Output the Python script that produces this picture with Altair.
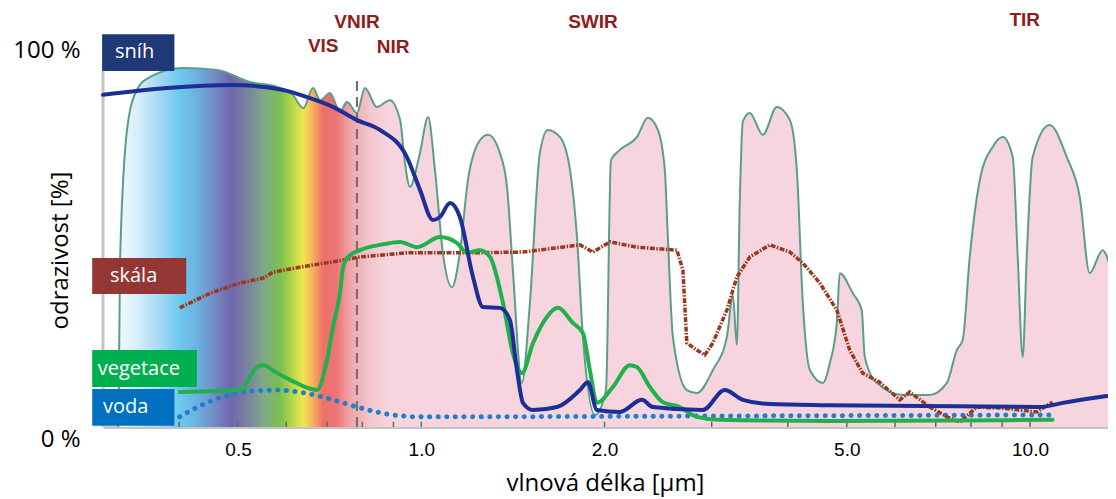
import altair as alt
import pandas as pd

# ---------------- data (wavelength in µm, reflectance / transmission in %) -------------
atm_lam = [0.318, 0.320, 0.329, 0.341, 0.358, 0.406, 0.462, 0.523, 0.580, 0.615,
           0.640, 0.664, 0.682, 0.708, 0.735, 0.755, 0.784, 0.808, 0.845, 0.888,
           0.923, 0.940, 0.958, 0.995, 1.026, 1.053, 1.085, 1.123, 1.157, 1.193,
           1.249, 1.287, 1.346, 1.383, 1.414, 1.463, 1.508, 1.566, 1.614, 1.690,
           1.755, 1.802, 1.843, 1.929, 2.011, 2.049, 2.120, 2.260, 2.356, 2.447,
           2.512, 2.541, 2.590, 2.730, 2.835, 3.013, 3.177, 3.249, 3.299, 3.336,
           3.374, 3.465, 3.640, 3.837, 4.032, 4.139, 4.234, 4.349, 4.567, 4.690,
           4.815, 4.869, 5.115, 5.291, 5.352, 5.601, 6.181, 6.843, 7.300, 7.580,
           7.752, 7.961, 8.270, 8.683, 9.018, 9.367, 9.545, 9.727, 9.875, 10.10,
           10.77, 11.49, 12.07, 12.53, 13.16, 13.67]
atm_val = [0, 44.3, 79.6, 89.4, 92.8, 95.2, 94.7, 91.5, 90.2, 88.1,
           84.6, 89.9, 86.7, 88.6, 83.6, 86.2, 83.3, 89.9, 84.9, 86.7,
           81.4, 70.0, 63.7, 72.7, 82.2, 68.2, 46.2, 37.1, 46.2, 65.5,
           76.1, 77.5, 72.7, 63.7, 41.6, 11.7, 32.9, 72.7, 78.8, 76.9,
           68.2, 50.4, 23.9, 3.2, 9.8, 70.8, 73.5, 76.9, 82.0, 78.8,
           68.2, 50.4, 23.9, 9.8, 9.0, 15.1, 23.9, 35.0, 21.8, 60.0,
           81.0, 83.3, 77.5, 84.9, 81.4, 68.2, 32.9, 15.1, 11.7, 17.0,
           27.6, 40.8, 35.5, 31.0, 18.6, 11.7, 8.5, 8.5, 11.7, 20.4,
           23.1, 45.1, 65.5, 74.3, 76.9, 71.6, 45.1, 18.6, 45.1, 71.6,
           80.1, 71.6, 61.0, 40.8, 46.9, 39.8]

snow_lam = [0.300, 0.382, 0.491, 0.593, 0.649, 0.716, 0.784, 0.855, 0.947, 0.995,
            1.045, 1.073, 1.115, 1.157, 1.216, 1.263, 1.346, 1.398, 1.436, 1.469,
            1.526, 1.671, 1.822, 1.878, 1.943, 2.120, 2.303, 2.401, 2.900, 3.152,
            3.374, 3.737, 4.690, 10.38, 11.32, 13.36]
snow_val = [88.1, 89.9, 90.7, 89.4, 87.5, 84.9, 81.4, 78.8, 71.6, 62.9,
            54.9, 55.7, 59.4, 55.7, 39.8, 31.8, 31.6, 28.4, 15.1, 6.4,
            4.5, 5.3, 9.8, 11.9, 4.5, 4.0, 7.2, 5.3, 4.5, 9.8,
            7.2, 6.1, 5.8, 5.3, 6.4, 8.2]

veg_lam = [0.401, 0.504, 0.537, 0.550, 0.580, 0.609, 0.674, 0.700, 0.716, 0.735,
           0.744, 0.758, 0.793, 0.855, 0.923, 0.984, 1.073, 1.145, 1.189, 1.249,
           1.297, 1.362, 1.414, 1.463, 1.526, 1.608, 1.677, 1.774, 1.843, 1.892,
           1.943, 2.064, 2.201, 2.260, 2.374, 2.493, 2.659, 2.835, 3.093, 4.690,
           10.89]
veg_val = [9.3, 9.8, 15.9, 16.4, 14.3, 12.5, 9.8, 17.8, 26.5, 35.5,
           42.4, 45.1, 46.9, 48.3, 49.1, 47.7, 50.4, 48.8, 46.2, 46.9,
           45.1, 32.9, 19.6, 14.3, 22.3, 29.2, 31.6, 27.6, 24.9, 15.1,
           6.4, 10.6, 16.4, 15.9, 10.6, 6.6, 5.3, 2.7, 1.9, 1.6,
           1.9]

water_lam = [0.401, 0.433, 0.472, 0.523, 0.580, 0.644, 0.716, 0.784, 0.899, 0.995, 2.868, 10.89]
water_val = [2.7, 5.6, 8.0, 9.5, 9.8, 9.0, 7.2, 5.3, 3.2, 2.7, 2.9, 3.2]

rock_lam = [0.401, 0.450, 0.504, 0.550, 0.571, 0.632, 0.716, 0.793, 0.947, 1.216,
            1.469, 1.822, 1.914, 2.041, 2.260, 2.630, 2.690, 2.730, 2.835, 2.922,
            3.013, 3.177, 3.299, 3.465, 3.737, 4.032, 4.234, 4.515, 4.815, 5.056,
            5.309, 5.660, 6.110, 6.345, 6.843, 7.300, 7.670, 8.174, 9.018, 10.25,
            10.89]
rock_val = [31.6, 35.5, 38.2, 39.5, 41.1, 42.4, 43.8, 45.1, 46.2, 46.2,
            46.4, 48.3, 46.4, 49.1, 47.7, 46.9, 41.6, 22.3, 20.4, 19.1,
            22.3, 31.0, 39.8, 45.1, 48.3, 46.4, 43.5, 38.2, 31.0, 20.4,
            14.3, 11.9, 7.2, 9.3, 5.3, 2.7, 1.3, 5.3, 5.0, 4.0,
            6.6]

x_tick_labels = [0.5, 1, 2, 5, 10]
x_minor_ticks = [0.4, 0.5, 0.6, 0.7, 0.8, 0.9, 1, 2, 3, 4, 5, 6, 7, 8, 9, 10]
y_tick_labels = [0, 100]
vnir_boundary = [0.784]

band_names = ["VNIR", "VIS", "NIR", "SWIR", "TIR"]
series_names = ["sníh", "skála", "vegetace", "voda"]

# ---------------- layout / style (annotation positions in data units) -----------------
band_x = [0.784, 0.690, 0.899, 1.914, 9.80]
band_y = [107.4, 101.1, 100.8, 107.4, 108.0]

box_x0 = [0.299, 0.288, 0.288, 0.288]
box_x1 = [0.393, 0.411, 0.428, 0.393]
box_y0 = [94.4, 35.3, 10.6, 0.3]
box_y1 = [104.2, 44.8, 20.4, 10.1]
box_tx = [0.314, 0.308, 0.294, 0.300]
box_ty = [99.6, 40.1, 15.5, 5.2]
box_colors = ["#1f3878", "#943634", "#00b050", "#0070c0"]

spectrum_offsets = [0.0, 0.018, 0.035, 0.062, 0.078, 0.095, 0.113, 0.129, 0.146, 0.163,
                    0.176, 0.186, 0.196, 0.206, 0.219, 0.233, 0.253, 0.273, 1.0]
spectrum_colors = ["#f2f9fd", "#d8eefa", "#b4dff5", "#6cc8ef", "#6cb2e2", "#7290c8", "#7066ae",
                   "#7880a0", "#80a888", "#7cc050", "#bcd84a", "#f2e650", "#f4ae5e", "#ee7068",
                   "#ee7474", "#f0a4a8", "#f3c6ce", "#f6d5df", "#f6d5df"]

# ---------------- tables -----------------
atm_df = pd.DataFrame({"lam": atm_lam, "val": atm_val})
snow_df = pd.DataFrame({"lam": snow_lam, "val": snow_val})
veg_df = pd.DataFrame({"lam": veg_lam, "val": veg_val})
water_df = pd.DataFrame({"lam": water_lam, "val": water_val})
rock_df = pd.DataFrame({"lam": rock_lam, "val": rock_val})
tick_df = pd.DataFrame({"lam": x_minor_ticks, "val": 0.0, "y1": 1.4})
vline_df = pd.DataFrame({"lam": vnir_boundary, "val": 0.0, "y1": 92.0})
yline_df = pd.DataFrame({"lam": [0.3], "val": [0.0], "y1": [94.5]})
band_df = pd.DataFrame({"name": band_names, "lam": band_x, "val": band_y})
box_df = pd.DataFrame({"name": series_names, "lam": box_x0, "x1": box_x1,
                       "val": box_y0, "y1": box_y1, "tx": box_tx, "ty": box_ty})

xs = alt.Scale(type="log", domain=[0.3, 13.43], nice=False, zero=False)
ys = alt.Scale(domain=[0, 100], nice=False, zero=False)

xaxis = alt.Axis(values=x_tick_labels, format=".1f", title="vlnová délka [µm]", grid=False,
                 ticks=False, domainColor="#c4c4c4", domainWidth=3, labelFont="Liberation Sans",
                 labelFontSize=19, labelColor="#000000", labelPadding=13, labelFlush=False,
                 titleFont="Open Sans", titleFontSize=24, titleFontWeight="normal",
                 titleColor="#000000", titleX=502, titleY=56, titleBaseline="middle",
                 titleAlign="center")
yaxis = alt.Axis(values=y_tick_labels, labelExpr="datum.value + ' %'", title="odrazivost [%]",
                 grid=False, ticks=False, domain=False, labelFont="Open Sans", labelFontSize=24,
                 labelColor="#000000", labelPadding=23,
                 labelBaseline={"condition": {"test": "datum.value === 0", "value": "top"},
                                "value": "middle"},
                 titleFont="Open Sans", titleFontSize=24, titleFontWeight="normal",
                 titleColor="#000000", titleAngle=270, titleX=-43, titleY=200,
                 titleAlign="center", titleBaseline="middle")


def X(field="lam"):
    return alt.X(field, type="quantitative", scale=xs, axis=xaxis)


def Y(field="val"):
    return alt.Y(field, type="quantitative", scale=ys, axis=yaxis)


gradient = alt.Gradient(
    gradient="linear", x1=0, x2=1, y1=0, y2=0,
    stops=[alt.GradientStop(offset=o, color=c) for o, c in zip(spectrum_offsets, spectrum_colors)],
)

area = alt.Chart(atm_df).mark_area(fill=gradient, interpolate="monotone", clip=True).encode(
    x=X(), y=Y())
atm_line = alt.Chart(atm_df).mark_line(color="#5a9e88", strokeWidth=2, interpolate="monotone",
                                       clip=True).encode(x=X(), y=Y())
yline = alt.Chart(yline_df).mark_rule(color="#c4c4c4", strokeWidth=3).encode(
    x=X(), y=Y(), y2="y1")
ticks = alt.Chart(tick_df).mark_rule(color="#666666", strokeWidth=1.5).encode(
    x=X(), y=Y(), y2="y1")
vline = alt.Chart(vline_df).mark_rule(color="#6e6e6e", strokeWidth=2, strokeDash=[10, 6]).encode(
    x=X(), y=Y(), y2="y1")
water = alt.Chart(water_df).mark_line(color="#1e7fd0", strokeWidth=5, strokeDash=[0.1, 8.5],
                                      strokeCap="round", interpolate="monotone").encode(x=X(), y=Y())
rock = alt.Chart(rock_df).mark_line(color="#9a3820", strokeWidth=3.5, strokeDash=[5, 1.5, 1.5, 1.5],
                                    interpolate="linear").encode(x=X(), y=Y())
veg = alt.Chart(veg_df).mark_line(color="#21b04b", strokeWidth=4, interpolate="monotone",
                                  strokeJoin="round", strokeCap="round").encode(x=X(), y=Y())
snow = alt.Chart(snow_df).mark_line(color="#1b2f96", strokeWidth=4, interpolate="monotone",
                                    strokeJoin="round", strokeCap="round").encode(x=X(), y=Y())
boxes = alt.Chart(box_df).mark_rect().encode(
    x=X(), x2="x1", y=Y(), y2="y1",
    color=alt.Color("name:N", scale=alt.Scale(domain=series_names, range=box_colors), legend=None))
box_text = alt.Chart(box_df).mark_text(align="left", baseline="middle", color="white",
                                       font="Open Sans", fontSize=20).encode(
    x=X("tx"), y=Y("ty"), text="name:N")
band_text = alt.Chart(band_df).mark_text(align="center", baseline="middle", color="#8f1c1c",
                                         font="Liberation Sans", fontSize=19,
                                         fontWeight="bold").encode(x=X(), y=Y(), text="name:N")

chart = alt.layer(area, atm_line, yline, ticks, vline, water, rock, veg, snow, boxes, box_text,
                  band_text).properties(
    width=1005, height=377, autosize=alt.AutoSizeParams(type="none"),
    padding={"left": 95, "top": 42, "right": 0, "bottom": 72},
    background="white",
).configure_view(stroke=None)

chart.save("out.html", embed_options={"renderer": "svg", "actions": False})
